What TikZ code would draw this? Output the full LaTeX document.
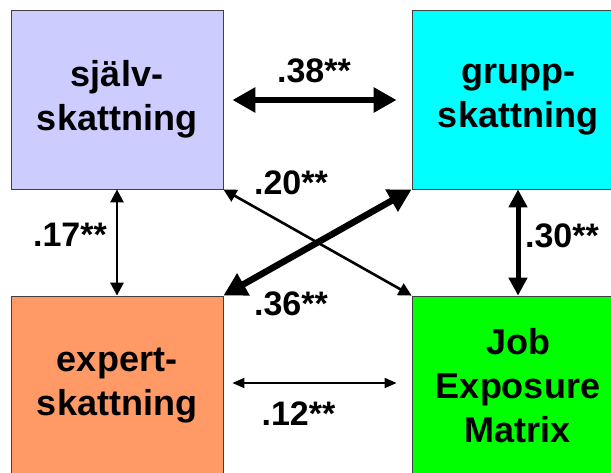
\documentclass[tikz,border=0pt]{standalone}
\usepackage{fontspec}
\setmainfont{Liberation Sans}
\usetikzlibrary{arrows.meta}
\definecolor{Lavender}{HTML}{CCCCFF}
\definecolor{Aqua}{HTML}{00FFFF}
\definecolor{Salmon}{HTML}{FF9966}
\definecolor{Lime}{HTML}{00FF00}

\begin{document}
\begin{tikzpicture}[x=1pt,y=-1pt,
    rating/.style={draw=black!75,line width=0.8pt,minimum width=212pt,minimum height=179pt,
      inner sep=0pt,align=center,font=\fontsize{36}{44}\selectfont\bfseries},
    corr/.style={anchor=base,inner sep=0pt,font=\fontsize{34}{40}\selectfont\bfseries},
    thin/.style={line width=2.6pt,{Triangle[length=13pt,width=13pt]}-{Triangle[length=13pt,width=13pt]}},
    thick/.style={line width=6pt,{Triangle[length=23pt,width=24pt]}-{Triangle[length=23pt,width=24pt]}}
  ]
    \useasboundingbox (0,0) rectangle (611,472);
    \node[rating,fill=Lavender] (sjalv) at (117,99.5) {själv-\\skattning};
    \node[rating,fill=Aqua] (grupp) at (518,99.5) {grupp-\\skattning};
    \node[rating,fill=Salmon] (expert) at (117,385.5) {expert-\\skattning};
    \node[rating,fill=Lime] (jem) at (518,385.5) {Job\\Exposure\\Matrix};

    % connectors
    \draw[thick] ([xshift=9pt,yshift=-0.5pt]sjalv.east) -- ([xshift=-15pt,yshift=-0.5pt]grupp.west);
    \draw[thin] (sjalv.south) -- (expert.north);
    \draw[thick,line width=5pt,{Triangle[length=18pt,width=18pt]}-{Triangle[length=18pt,width=18pt]}]
      (grupp.south) -- (jem.north);
    \draw[thin] (sjalv.south east) -- (jem.north west);
    \draw[thick,line width=6.5pt] (grupp.south west) -- (expert.north east);
    \draw[line width=1.8pt,{Triangle[length=12pt,width=10pt]}-{Triangle[length=12pt,width=10pt]}]
      ([xshift=9pt,yshift=2.5pt]expert.east) -- ([xshift=-15pt,yshift=2.5pt]jem.west);

    % labels
    \node[corr] (r38) at (314,82) {.38**};
    \node[corr] (r20) at (291,194) {.20**};
    \node[corr] (r36) at (291,315) {.36**};
    \node[corr] (r17) at (70,246) {.17**};
    \node[corr] (r30) at (562,247) {.30**};
    \node[corr] (r12) at (298.5,425) {.12**};
\end{tikzpicture}
\end{document}
